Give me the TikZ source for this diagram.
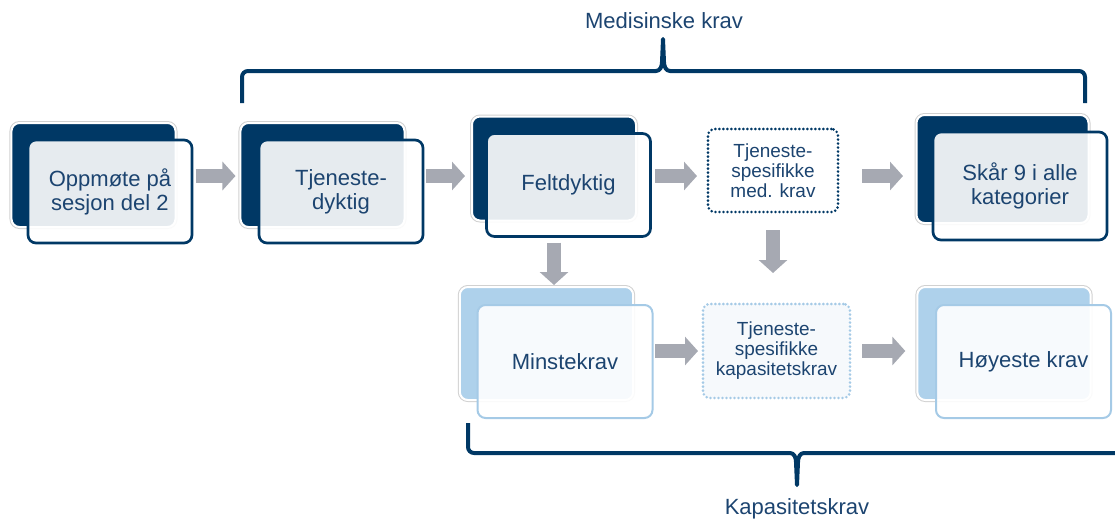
\documentclass[tikz,border=0pt]{standalone}
\usepackage{fontspec}
\setmainfont{Liberation Sans}
\usetikzlibrary{arrows.meta}
\definecolor{marine}{RGB}{0,56,101}
\definecolor{tekstblaa}{RGB}{28,68,112}
\definecolor{lyseblaa}{RGB}{174,209,235}
\definecolor{kantblaa}{RGB}{165,202,230}
\definecolor{pilgraa}{RGB}{166,169,178}
\definecolor{isblaa}{RGB}{246,249,252}
\begin{document}
\begin{tikzpicture}
	[x=0.03cm,y=-0.03cm,
	every node/.style={inner sep=0pt,outer sep=0pt,align=center,text=tekstblaa,font=\fontsize{18.8}{20.5}\selectfont},
	bakside/.style={rectangle,rounded corners=0.24cm,fill=marine,draw=white,line width=0.06cm,preaction={draw=black!18,line width=0.12cm},minimum width=4.92cm,minimum height=3.12cm},
	forside/.style={rectangle,rounded corners=0.24cm,draw=marine,line width=0.08cm,fill=white,fill opacity=0.9,text opacity=1,minimum width=4.92cm,minimum height=3.09cm},
	lysbak/.style={bakside,fill=lyseblaa,minimum width=5.2cm,minimum height=3.39cm},
	lysfront/.style={forside,draw=kantblaa,line width=0.06cm,minimum width=5.25cm,minimum height=3.39cm},
	stiplet/.style={rectangle,rounded corners=0.2cm,draw=marine,fill=white,line width=0.085cm,line cap=round,dash pattern=on 0cm off 0.12cm,font=\fontsize{16.2}{17}\selectfont},
	pil/.style={draw=pilgraa,line width=0.42cm,-{Triangle[length=0.39cm,width=0.84cm]}},
	klamme/.style={draw=marine,line width=0.12cm,line join=round}]
	\useasboundingbox (0,0) rectangle (1115,521);
	\node[bakside] (oppmote-bak) at (93.5,175) {};
	\node[forside] (oppmote) at (110,191.5) {Oppmøte på\\sesjon del 2};
	\node[bakside] (tjeneste-bak) at (322.5,175) {};
	\node[forside] (tjeneste) at (341,191.5) {Tjeneste-\\dyktig};
	\node[bakside] (feltdyktig-bak) at (554,168.5) {};
	\node[forside] (feltdyktig) at (568.5,185) {Feltdyktig};
	\node[stiplet,minimum width=3.9cm,minimum height=2.49cm] (medkrav) at (773,170.5) {Tjeneste-\\spesifikke\\med. krav};
	\node[bakside,minimum width=5.16cm,minimum height=3.24cm] (skaar-bak) at (1002.5,169) {};
	\node[forside,minimum width=5.22cm,minimum height=3.24cm] (skaar) at (1020,186) {Skår 9 i alle\\kategorier};
	\node[lysbak] (minstekrav-bak) at (546.5,343.5) {};
	\node[lysfront] (minstekrav) at (565,361.5) {Minstekrav};
	\node[stiplet,draw=kantblaa,fill=isblaa,minimum width=4.41cm,minimum height=2.82cm] (kapasitet) at (776.5,351) {Tjeneste-\\spesifikke\\kapasitetskrav};
	\node[lysbak] (hoyeste-bak) at (1004,343.5) {};
	\node[lysfront] (hoyeste) at (1023.5,361.5) {Høyeste krav};
	\node[anchor=base] (medisinsk) at (664,28) {Medisinske krav};
	\node[anchor=base] (kapasitetskrav) at (797,514) {Kapasitetskrav};
	\coordinate (pilrad) at (0,176);
	\draw[pil,shorten <=0.6cm,shorten >=0.15cm] (oppmote-bak.east |- pilrad) -- (tjeneste-bak.west |- pilrad);
	\draw[pil,shorten <=0.645cm,shorten >=0.21cm] (tjeneste-bak.east |- pilrad) -- (feltdyktig-bak.west |- pilrad);
	\draw[pil,shorten <=0.135cm,shorten >=0.33cm] (feltdyktig.east |- pilrad) -- (medkrav.west |- pilrad);
	\draw[pil,shorten <=0.72cm,shorten >=0.405cm] (medkrav.east |- pilrad) -- (skaar-bak.west |- pilrad);
	\draw[pil,shorten <=0.18cm,shorten >=0.06cm] (feltdyktig-bak |- feltdyktig.south) -- (feltdyktig-bak |- minstekrav-bak.north);
	\draw[pil,shorten <=0.54cm,shorten >=0.93cm] (medkrav.south) -- (medkrav |- kapasitet.north);
	\draw[pil,shorten <=0.075cm,shorten >=0.15cm] (minstekrav.east |- kapasitet) -- (kapasitet.west);
	\draw[pil,shorten <=0.36cm,shorten >=0.36cm] (kapasitet.east) -- (kapasitet -| hoyeste-bak.west);
	\draw[klamme] (242,103) -- (242,77) to[out=90,in=180] (248,71) -- (656,71) to[out=0,in=-90] (662,62) -- (663,39) -- (664,62) to[out=-90,in=180] (670,71) -- (1079,71) to[out=0,in=90] (1085,77) -- (1085,103);
	\draw[klamme] (468,423) -- (468,447) to[out=-90,in=180] (474,453) -- (790,453) to[out=0,in=90] (796,462) -- (797,485) -- (798,462) to[out=90,in=180] (804,453) -- (1120,453);
\end{tikzpicture}
\end{document}
